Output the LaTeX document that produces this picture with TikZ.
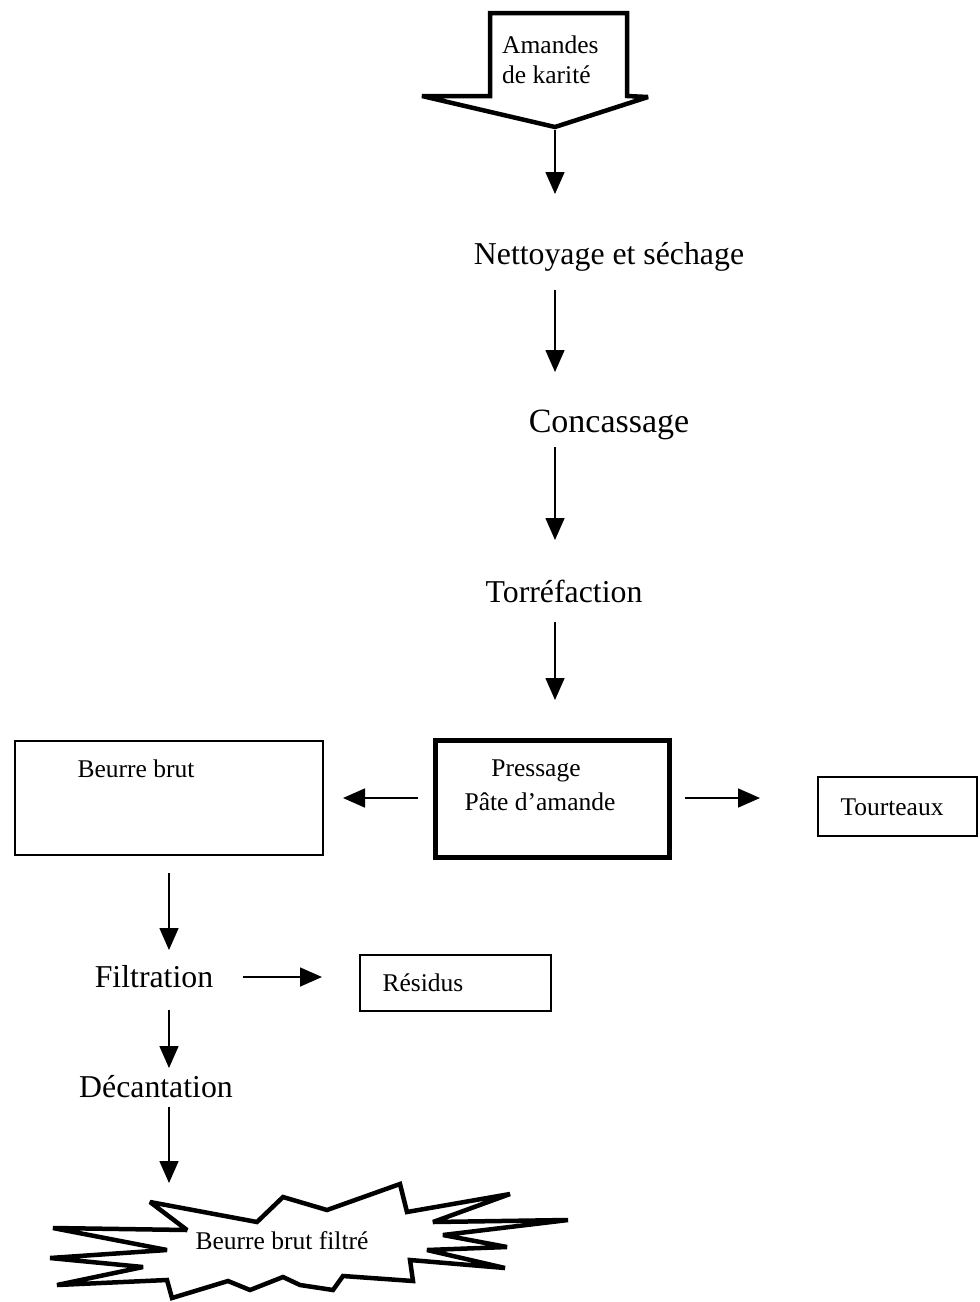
\documentclass[tikz,border=0pt]{standalone}
\usepackage{fontspec}
\setmainfont{Liberation Serif}
\usetikzlibrary{arrows.meta}
\begin{document}
\begin{tikzpicture}[x=1pt,y=-1pt,
  arr/.style={line width=1.6pt,-{Triangle[width=19pt,length=22pt]}},
  steptext/.style={inner sep=0pt,font=\fontsize{31.8}{36}\selectfont},
  boxtext/.style={inner sep=0pt,font=\fontsize{25.5}{30}\selectfont,align=center},
  thinbox/.style={draw,line width=1.6pt},
  thickbox/.style={draw,line width=5pt}]
\useasboundingbox[fill=white] (0,0) rectangle (980,1302);

% input block arrow
\draw[line width=4.5pt,line join=miter,miter limit=2] (490,13) -- (627,13) -- (627,96)
  -- (648,97) -- (555,127) -- (422,96) -- (490,96) -- cycle;
\node[boxtext,align=left,anchor=west] (input) at (502,60) {Amandes\\de karité};

% main processing column
\node[steptext] (net) at (609,257) {Nettoyage et séchage};
\node[steptext,font=\fontsize{34}{40}\selectfont] (conc) at (609,425) {Concassage};
\node[steptext] (torr) at (564,591) {Torréfaction};

\coordinate (a1s) at (555,130); \coordinate (a1e) at (555,194);
\coordinate (a2s) at (555,290); \coordinate (a2e) at (555,372);
\coordinate (a3s) at (555,447); \coordinate (a3e) at (555,540);
\coordinate (a4s) at (555,622); \coordinate (a4e) at (555,700);
\draw[arr] (a1s) -- (a1e);
\draw[arr] (a2s) -- (a2e);
\draw[arr] (a3s) -- (a3e);
\draw[arr] (a4s) -- (a4e);

% pressing stage and its two outputs
\draw[thickbox] (435,740) rectangle (669,857);
\node[boxtext] (press) at (536,771) {Pressage};
\node[boxtext] (pate) at (540,802) {Pâte d’amande};

\draw[thinbox] (15,741) rectangle (323,855);
\node[boxtext] (beurre) at (136,769) {Beurre brut};

\draw[thinbox] (818,777) rectangle (977,836);
\node[boxtext] (tourt) at (892,807) {Tourteaux};

\coordinate (a5s) at (418,798); \coordinate (a5e) at (343,798);
\coordinate (a6s) at (685,798); \coordinate (a6e) at (760,798);
\draw[arr] (a5s) -- (a5e);
\draw[arr] (a6s) -- (a6e);

% butter treatment column
\node[steptext] (filt) at (154,977) {Filtration};
\node[steptext] (dec) at (156,1087) {Décantation};

\draw[thinbox] (360,955) rectangle (551,1011);
\node[boxtext] (res) at (423,983) {Résidus};

\coordinate (a7s) at (169,873); \coordinate (a7e) at (169,950);
\coordinate (a8s) at (243,977); \coordinate (a8e) at (322,977);
\coordinate (a9s) at (169,1010); \coordinate (a9e) at (169,1068);
\coordinate (a10s) at (169,1107); \coordinate (a10e) at (169,1183);
\draw[arr] (a7s) -- (a7e);
\draw[arr] (a8s) -- (a8e);
\draw[arr] (a9s) -- (a9e);
\draw[arr] (a10s) -- (a10e);

% final product burst
\draw[line width=4.5pt,line join=miter,miter limit=3]
  (150,1202) -- (257,1222) -- (283,1197) -- (327,1210) -- (400,1184)
  -- (407,1212) -- (510,1194) -- (433,1222) -- (568,1220) -- (443,1235)
  -- (507,1247) -- (427,1250) -- (505,1268) -- (410,1260) -- (413,1281)
  -- (343,1276) -- (333,1290) -- (300,1285) -- (283,1277) -- (250,1290)
  -- (228,1281) -- (172,1298) -- (167,1280) -- (57,1285) -- (143,1267)
  -- (50,1258) -- (167,1250) -- (53,1228) -- (187,1230) -- cycle;
\node[boxtext] (final) at (282,1241) {Beurre brut filtré};
\end{tikzpicture}
\end{document}
